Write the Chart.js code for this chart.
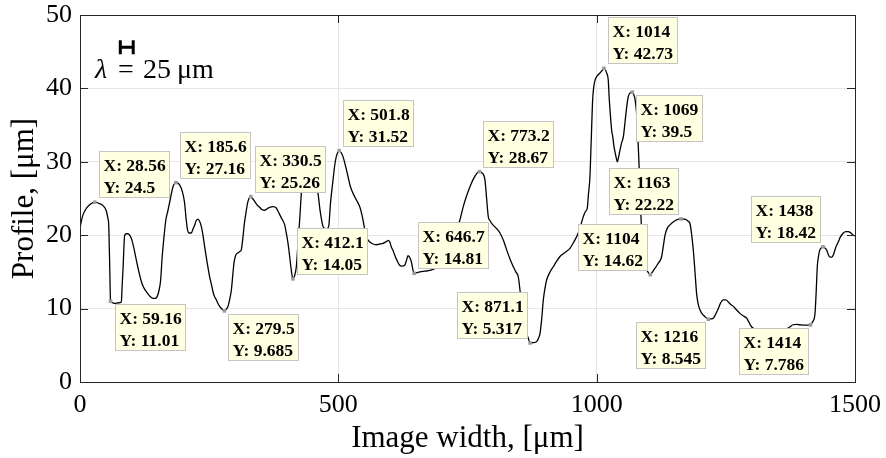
<!DOCTYPE html>
<html>
<head>
<meta charset="utf-8">
<script src="https://cdn.jsdelivr.net/npm/chart.js@4.4.1/dist/chart.umd.min.js"></script>
<style>
html,body{margin:0;padding:0;background:#fff;}
#wrap{width:886px;height:458px;position:relative;}
</style>
</head>
<body>
<div id="wrap"><canvas id="c" width="886" height="458"></canvas></div>
<script>
// ---- data ----
const profileX = [0,5,10,18,28.56,38,45,51,54,55.5,57.4,59.16,63,67,75,80,81.5,83.2,86.5,90,93,97,100.6,105,109,114,118.7,123,128.4,135,141.3,146,149.7,153,156.1,159,162.6,166,170.3,175,180,185.6,191,196,200,202.6,205,207.7,211,215.4,219,222,225,228.4,231.5,234.8,238,241.3,246,251,254,257.4,260,263.8,267,270.3,275,279.5,283,286.4,289.5,292.9,295.5,298,301,305.8,310,312.2,315.5,318,320,325.1,330.5,334,338,343,347.8,352,357.5,362,367,374,380,383,386.5,391,396.2,399.5,402.6,406,409,412.1,415,418.7,422,425.2,428.4,432,437,443,449,455,460.6,465,470.3,474.8,478,481.3,485,489.7,493,496,499,501.8,505,509,514,518.7,523,528.4,535,541.3,544.5,547.7,552.3,556,560.6,567,573.5,580,586.5,592,597.4,600,602.6,606,609,614,618.7,623,628.4,632,634.8,638,641.3,644,646.7,652,658,668,677,690,705,720,735.4,741.8,748,754.8,761,767.7,773.2,778,783.8,787,790.3,793.5,796.8,805,812.9,820,825.8,832,838.7,843.5,848.4,851.6,856,861,864.5,867.7,871.1,877,883.9,887,890.3,893.5,896.8,900,903.2,909,916,922,929,938,948.3,956,964.4,969,974,978,981.8,984,987,989.5,992.2,994,996.7,1001,1006.4,1010,1014,1017,1019.3,1022.5,1024,1025.8,1029,1031,1033.5,1037.4,1040,1042,1045.2,1048,1051.6,1054,1056.7,1061.2,1065,1069,1071.5,1074,1077.3,1080,1083,1085.5,1088,1092,1097,1101,1104,1107,1111,1115,1119.3,1122.5,1125.8,1129,1132.3,1137,1141.9,1148,1154.8,1163,1168,1174,1177,1180.6,1184,1187,1190,1193.5,1196.5,1200,1205,1209.7,1216,1221,1225.7,1230,1235.5,1240,1245,1250,1254.8,1259,1264.5,1271,1277.4,1284,1290.3,1295,1300,1310,1325,1340,1355,1366,1374,1380,1387,1393,1400,1407,1414,1418,1422.6,1425,1427,1429.5,1432,1435,1438,1441,1445,1448,1451.6,1455,1458,1462,1467.7,1472,1477.4,1482,1487,1492,1496.7,1500];
const profileY = [21.0,22.6,23.4,24.1,24.5,24.3,24.0,23.3,22.3,21.5,16.2,11.01,10.8,10.7,10.8,10.9,13,15.3,20.0,20.2,20.2,19.9,19.3,18.0,16.6,15.0,13.7,12.9,12.3,11.7,11.4,11.4,11.7,12.5,13.9,17,19.8,22,23.4,25,26.6,27.16,27.0,26.4,25.4,24.3,22.5,20.9,20.3,20.3,20.9,21.4,22.0,22.2,21.9,21.2,20.0,18.4,16.3,14.3,13.4,12.3,11.7,11.2,10.7,10.3,9.9,9.685,9.9,10.3,11.2,12.5,14.4,16.2,17.2,17.6,17.8,18.0,19.8,21.5,22.5,24.6,25.26,25.0,24.6,24.1,23.8,23.5,23.4,23.6,23.8,23.9,23.7,23.3,22.8,22.2,21.4,20.2,18.9,17.0,15.2,14.05,14.4,15.7,19,22.1,25.7,28,29.3,29.5,29,27.5,25.7,23.2,21.2,20.9,20.9,21.2,24.5,27.5,29.5,30.7,31.3,31.52,31.3,30.7,29.4,28.0,26.7,25.7,24.8,23.9,23.1,22.1,20.3,19.5,19.1,18.8,18.7,18.8,18.9,19.1,19.3,19.0,18.4,17.9,17.3,16.5,15.9,15.8,15.9,16.6,17.2,17.0,16.4,15.4,14.81,14.9,15.0,15.1,15.2,15.6,17,19.2,22.1,23.9,25.3,26.6,27.6,28.4,28.67,28.5,27.5,25,22.5,22.0,21.6,21.0,20.3,19.2,18.0,16.8,15.7,15.0,14.3,12.5,10.0,7.8,6.6,5.95,5.317,5.35,5.5,5.9,6.6,8.5,11.2,12.8,13.9,14.9,15.7,16.4,17.1,17.6,18.2,19.1,20.3,21.3,22.5,23.2,23.7,25.5,28.0,33,38.4,40.0,41.1,41.7,42.1,42.4,42.73,42.5,42.1,41.1,39,37.1,34.3,33.5,32.1,30.7,30.0,30.5,31.6,32.5,33.4,34.8,36.6,38.9,39.4,39.5,39.2,38.6,36.6,33,28,23,19,16.5,15.3,14.8,14.62,14.9,15.3,15.7,16.2,16.5,17.1,18.5,20.0,21.0,21.4,21.8,22.1,22.22,22.2,22.1,21.9,21.6,20.0,18.0,15.3,12.0,10.6,9.8,9.2,8.9,8.545,8.6,8.7,9.2,10.0,10.8,11.2,11.2,10.9,10.6,10.3,9.8,9.35,9.0,8.7,8.1,7.5,7.1,6.9,6.9,7.0,7.2,7.5,7.8,7.85,7.8,7.75,7.75,7.786,8.2,9.35,12.5,15.7,17.2,18.0,18.3,18.42,18.3,18.0,17.4,17.0,17.0,17.3,18.2,19.1,19.8,20.3,20.5,20.5,20.3,20.0,19.9];

// data tips (marked points)
const tipX = [28.56,59.16,185.6,279.5,330.5,412.1,501.8,646.7,773.2,871.1,1014,1069,1104,1163,1216,1414,1438];
const tipY = [24.5,11.01,27.16,9.685,25.26,14.05,31.52,14.81,28.67,5.317,42.73,39.5,14.62,22.22,8.545,7.786,18.42];
// where each tip box sits relative to its point: a=above b=below, r=right l=left
const tipPlace = ['ar','br','ar','br','ar','ar','ar','ar','ar','al','ar','br','al','al','bl','bl','al'];

const xTicks = [0,500,1000,1500];
const yTicks = [0,10,20,30,40,50];
const lambdaValue = 25;      // scale bar length in µm
const scaleBarStart = 78;    // µm
const scaleBarY = 45.6;

const xTitle = 'Image width, [\u03bcm]';
const yTitle = 'Profile, [\u03bcm]';

const SERIF = '"Liberation Serif", "Times New Roman", serif';

const profile = profileX.map((x,i)=>({x:x,y:profileY[i]}));
const tips = tipX.map((x,i)=>({x:x,y:tipY[i]}));

// fixed plot box (MATLAB-like axes position)
const AREA = {left:80, top:15, right:855, bottom:382};

const fixArea = {
  id:'fixArea',
  afterLayout(chart){
    const ca = chart.chartArea;
    ca.left = AREA.left; ca.top = AREA.top; ca.right = AREA.right; ca.bottom = AREA.bottom;
    ca.width = AREA.right-AREA.left; ca.height = AREA.bottom-AREA.top;
    const xs = chart.scales.x, ys = chart.scales.y;
    xs.left = AREA.left; xs.right = AREA.right; xs.width = ca.width;
    xs.top = AREA.bottom; xs.bottom = chart.height; xs.height = chart.height-AREA.bottom;
    ys.left = 0; ys.right = AREA.left; ys.width = AREA.left;
    ys.top = AREA.top; ys.bottom = AREA.bottom; ys.height = ca.height;
    xs.configure(); ys.configure();
  }
};

const frame = {
  id:'frame',
  afterDatasetsDraw(chart){
    const {ctx, chartArea:a, scales:{x,y}} = chart;
    ctx.save();
    // box
    ctx.strokeStyle = '#262626';
    ctx.lineWidth = 1;
    ctx.strokeRect(Math.round(a.left)+0.5, Math.round(a.top)+0.5, Math.round(a.right-a.left), Math.round(a.bottom-a.top));
    // inner ticks
    const L = 8;
    ctx.beginPath();
    xTicks.forEach(v=>{
      const px = Math.round(x.getPixelForValue(v))+0.5;
      ctx.moveTo(px,a.bottom); ctx.lineTo(px,a.bottom-L);
      ctx.moveTo(px,a.top); ctx.lineTo(px,a.top+L);
    });
    yTicks.forEach(v=>{
      const py = Math.round(y.getPixelForValue(v))+0.5;
      ctx.moveTo(a.left,py); ctx.lineTo(a.left+L,py);
      ctx.moveTo(a.right,py); ctx.lineTo(a.right-L,py);
    });
    ctx.stroke();

    // scale bar  (H)
    const bx0 = x.getPixelForValue(scaleBarStart);
    const bx1 = x.getPixelForValue(scaleBarStart+lambdaValue);
    const by = y.getPixelForValue(scaleBarY);
    ctx.strokeStyle = '#000';
    ctx.lineWidth = 3;
    ctx.beginPath();
    ctx.moveTo(bx0,by); ctx.lineTo(bx1,by);
    ctx.moveTo(bx0,by-7); ctx.lineTo(bx0,by+7);
    ctx.moveTo(bx1,by-7); ctx.lineTo(bx1,by+7);
    ctx.stroke();

    // lambda text
    ctx.fillStyle = '#000';
    ctx.textBaseline = 'alphabetic';
    ctx.textAlign = 'left';
    const ty = 78;
    ctx.font = 'italic 28px ' + SERIF;
    ctx.fillText('\u03bb', 95, ty);
    ctx.font = '28px ' + SERIF;
    ctx.fillText('=', 118, ty);
    ctx.fillText(String(lambdaValue), 143, ty);
    ctx.fillText('\u03bcm', 177, ty);

    // data tips
    ctx.font = 'bold 17.5px ' + SERIF;
    tips.forEach((p,i)=>{
      const px = x.getPixelForValue(p.x);
      const py = y.getPixelForValue(p.y);
      const l1 = 'X: ' + tipX[i];
      const l2 = 'Y: ' + tipY[i];
      const w = Math.round(Math.max(ctx.measureText(l1).width, ctx.measureText(l2).width) + 8);
      const h = 46;
      const pl = tipPlace[i];
      let bx = pl[1]==='r' ? px + 4 : px - 3 - w;
      let by2 = pl[0]==='a' ? py - 5 - h : py + 3;
      bx = Math.round(bx)+0.5; by2 = Math.round(by2)+0.5;
      ctx.fillStyle = '#ffffe1';
      ctx.fillRect(bx,by2,w,h);
      ctx.strokeStyle = '#c4c4c4';
      ctx.lineWidth = 1;
      ctx.strokeRect(bx,by2,w,h);
      ctx.fillStyle = '#000';
      ctx.fillText(l1, bx+4, by2+19);
      ctx.fillText(l2, bx+4, by2+41);
    });
    ctx.restore();
  }
};

new Chart(document.getElementById('c'), {
  type:'line',
  data:{
    datasets:[
      {
        data: tips,
        showLine:false,
        pointStyle:'rect',
        pointRadius:2.5,
        pointBackgroundColor:'#9a9a9a',
        pointBorderColor:'#9a9a9a',
        pointBorderWidth:0,
        order:0
      },
      {
        data: profile,
        borderColor:'#000',
        borderWidth:1.3,
        pointRadius:0,
        fill:false,
        cubicInterpolationMode:'monotone',
        order:1
      }
    ]
  },
  options:{
    responsive:false,
    animation:false,
    devicePixelRatio:1,
    layout:{padding:{left:0,right:31,top:15,bottom:0}},
    plugins:{legend:{display:false},tooltip:{enabled:false}},
    scales:{
      x:{
        type:'linear', min:0, max:1500,
        afterBuildTicks(s){ s.ticks = xTicks.map(v=>({value:v})); },
        afterFit(s){ s.height = 76; },
        ticks:{color:'#000', font:{family:SERIF, size:26}, padding:8, maxRotation:0, callback:v=>String(v)},
        grid:{color:'#e6e6e6', drawTicks:false},
        border:{display:true, color:'#262626'},
        title:{display:true, text:xTitle, color:'#000', font:{family:SERIF, size:31}, padding:{top:0,bottom:1}}
      },
      y:{
        min:0, max:50,
        afterBuildTicks(s){ s.ticks = yTicks.map(v=>({value:v})); },
        afterFit(s){ s.width = 80; },
        ticks:{color:'#000', font:{family:SERIF, size:26}, padding:8, callback:v=>String(v)},
        grid:{color:'#e6e6e6', drawTicks:false},
        border:{display:true, color:'#262626'},
        title:{display:true, text:yTitle, color:'#000', font:{family:SERIF, size:31}, padding:{top:6,bottom:0}}
      }
    }
  },
  plugins:[fixArea, frame]
});
</script>
</body>
</html>
